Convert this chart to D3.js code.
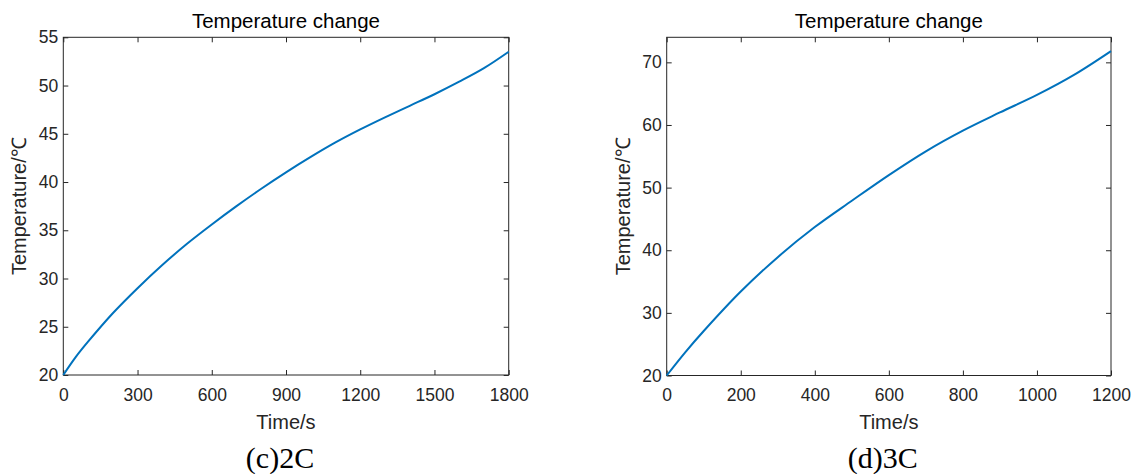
<!DOCTYPE html>
<html>
<head>
<meta charset="utf-8">
<script src="https://cdn.jsdelivr.net/npm/d3@7"></script>
<style>
  html, body { margin: 0; padding: 0; background: #ffffff; }
  svg { display: block; }
  .tick text { font-family: "Liberation Sans", Arial, sans-serif; font-size: 17.5px; fill: #262626; }
  .tick line { stroke: #262626; stroke-width: 1; }
</style>
</head>
<body>
<svg id="chart" width="1134" height="474"></svg>
<script>
// ---- data ----
const time2C = [0, 50, 100, 200, 300, 400, 500, 600, 700, 800, 900, 1000, 1100, 1200, 1300, 1400, 1500, 1600, 1700, 1800];
const temp2C = [20, 21.85, 23.45, 26.4, 29.0, 31.4, 33.6, 35.6, 37.5, 39.3, 41.0, 42.6, 44.1, 45.45, 46.7, 47.9, 49.1, 50.4, 51.8, 53.5];

const time3C = [0, 50, 100, 200, 300, 400, 500, 600, 700, 800, 900, 1000, 1100, 1200];
const temp3C = [20, 23.7, 27.1, 33.4, 38.9, 43.7, 47.9, 52.0, 55.8, 59.1, 62.0, 64.8, 68.0, 71.8];

const xTicks2C = [0, 300, 600, 900, 1200, 1500, 1800];
const yTicks2C = [20, 25, 30, 35, 40, 45, 50, 55];
const xTicks3C = [0, 200, 400, 600, 800, 1000, 1200];
const yTicks3C = [20, 30, 40, 50, 60, 70];

const xDomain2C = [0, 1800], yDomain2C = [20, 55];
const xDomain3C = [0, 1200], yDomain3C = [20, 74];

const titles = ["Temperature change", "Temperature change"];
const xLabel = "Time/s";
const yLabel = "Temperature/\u2103";
const captions = ["(c)2C", "(d)3C"];

// ---- layout ----
const panels = [
  { t: time2C, v: temp2C, xt: xTicks2C, yt: yTicks2C, xd: xDomain2C, yd: yDomain2C,
    title: titles[0], caption: captions[0], left: 63.3, right: 508.7, top: 37.3, bottom: 375 },
  { t: time3C, v: temp3C, xt: xTicks3C, yt: yTicks3C, xd: xDomain3C, yd: yDomain3C,
    title: titles[1], caption: captions[1], left: 666.7, right: 1111, top: 37.3, bottom: 375.5 }
];

const svg = d3.select("#chart");
const lineColor = "#0072BD";
const axisColor = "#262626";

panels.forEach(p => {
  const x = d3.scaleLinear().domain(p.xd).range([p.left, p.right]);
  const y = d3.scaleLinear().domain(p.yd).range([p.bottom, p.top]);
  const g = svg.append("g");

  const ax = g.append("g").attr("transform", `translate(0,${p.bottom})`)
    .call(d3.axisBottom(x).tickValues(p.xt).tickFormat(d3.format("d"))
      .tickSizeInner(-5).tickSizeOuter(0).tickPadding(13.5));
  ax.select(".domain").remove();

  const axT = g.append("g").attr("transform", `translate(0,${p.top})`)
    .call(d3.axisTop(x).tickValues(p.xt).tickFormat("").tickSizeInner(-5).tickSizeOuter(0));
  axT.select(".domain").remove();

  const ay = g.append("g").attr("transform", `translate(${p.left},0)`)
    .call(d3.axisLeft(y).tickValues(p.yt).tickFormat(d3.format("d"))
      .tickSizeInner(-5).tickSizeOuter(0).tickPadding(5));
  ay.select(".domain").remove();

  const ayR = g.append("g").attr("transform", `translate(${p.right},0)`)
    .call(d3.axisRight(y).tickValues(p.yt).tickFormat("").tickSizeInner(-5).tickSizeOuter(0));
  ayR.select(".domain").remove();

  g.append("rect")
    .attr("x", p.left).attr("y", p.top)
    .attr("width", p.right - p.left).attr("height", p.bottom - p.top)
    .attr("fill", "none").attr("stroke", axisColor).attr("stroke-width", 1);

  const data = p.t.map((t, i) => [t, p.v[i]]);
  g.append("path")
    .datum(data)
    .attr("fill", "none")
    .attr("stroke", lineColor)
    .attr("stroke-width", 2)
    .attr("stroke-linejoin", "round")
    .attr("d", d3.line().x(d => x(d[0])).y(d => y(d[1])).curve(d3.curveCatmullRom.alpha(0.5)));

  const cx = (p.left + p.right) / 2;
  g.append("text")
    .attr("x", cx).attr("y", 28)
    .attr("text-anchor", "middle")
    .attr("font-family", "'Liberation Sans', Arial, sans-serif")
    .attr("font-size", 20.5)
    .attr("fill", "#000")
    .text(p.title);

  g.append("text")
    .attr("x", cx).attr("y", 429)
    .attr("text-anchor", "middle")
    .attr("font-family", "'Liberation Sans', Arial, sans-serif")
    .attr("font-size", 20)
    .attr("fill", axisColor)
    .text(xLabel);

  const ly = (p.top + p.bottom) / 2;
  g.append("text")
    .attr("transform", `translate(${p.left - 37},${ly}) rotate(-90)`)
    .attr("text-anchor", "middle")
    .attr("font-family", "'Liberation Sans', Arial, sans-serif")
    .attr("font-size", 20)
    .attr("fill", axisColor)
    .text(yLabel);

  g.append("text")
    .attr("x", cx - 6).attr("y", 468)
    .attr("text-anchor", "middle")
    .attr("font-family", "'Liberation Serif', 'Times New Roman', serif")
    .attr("font-size", 30)
    .attr("fill", "#000")
    .text(p.caption);
});
</script>
</body>
</html>
